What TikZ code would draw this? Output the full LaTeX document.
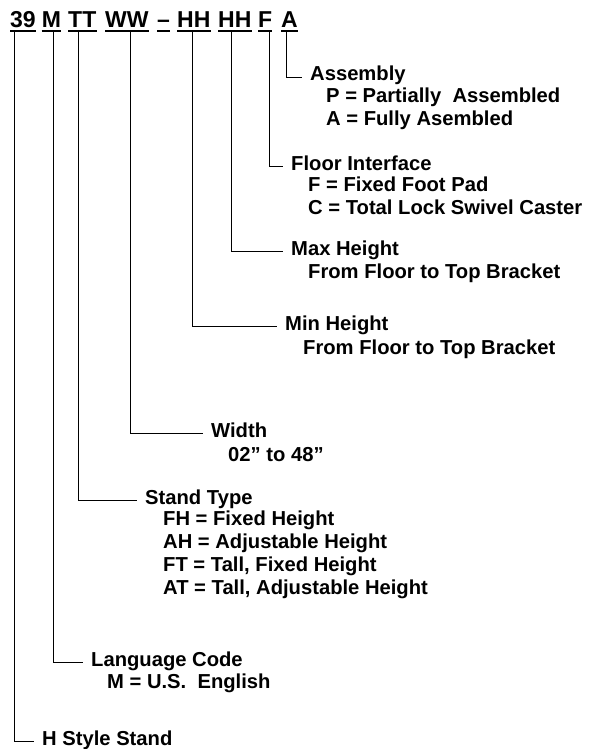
\documentclass[tikz,border=0pt]{standalone}
\usepackage{fontspec}
\setmainfont{Liberation Sans}
\usetikzlibrary{positioning}

\tikzset{
  code/.style={font=\bfseries\fontsize{23}{26}\selectfont, anchor=base west,
    inner xsep=0pt, inner ysep=2.5pt, text depth=0pt,
    append after command={(\tikzlastnode.south west) edge[line width=2pt] (\tikzlastnode.south east)}},
  title/.style={font=\bfseries\fontsize{20.2}{23}\selectfont, anchor=base west,
    inner xsep=8pt, inner ysep=0pt, text height=0.72em, text depth=0pt},
  details/.style={font=\bfseries\fontsize{20.2}{23}\selectfont, anchor=north west,
    align=left, inner sep=0pt, execute at begin node=\strut},
  link/.style={line width=0.9pt}
}

\begin{document}
\begin{tikzpicture}[x=1pt, y=-1pt]
    \useasboundingbox (0,0) rectangle (592,749);

    % Part number
    \node[code] (n39) at (10,28) {39};
    \node[code] (nM) at (41.7,28) {M};
    \node[code] (nTT) at (68,28) {TT};
    \node[code] (nWW) at (105,28) {WW};
    \node[code] (ndash) at (157,28) {–};
    \node[code] (nH1) at (177,28) {HH};
    \node[code] (nH2) at (218,28) {HH};
    \node[code] (nF) at (258,28) {F};
    \node[code] (nA) at (281,28) {A};

    % Fields (strut height 16.1pt, line 23pt below the title)
    \node[title] (asm) at (302,81) {Assembly};
    \node[details] (asmd) at ([xshift=24pt, yshift=-6.9pt]asm.base west)
        {P = Partially\ \ Assembled\\A = Fully Asembled};

    \node[title] (floor) at (283,170) {Floor Interface};
    \node[details] (floord) at ([xshift=25pt, yshift=-6.9pt]floor.base west)
        {F = Fixed Foot Pad\\C = Total Lock Swivel Caster};

    \node[title] (maxh) at (283,255) {Max Height};
    \node[details] (maxhd) at ([xshift=25pt, yshift=-6.9pt]maxh.base west)
        {From Floor to Top Bracket};

    \node[title] (minh) at (277,330) {Min Height};
    \node[details] (minhd) at ([xshift=26pt, yshift=-7.9pt]minh.base west)
        {From Floor to Top Bracket};

    \node[title] (wid) at (203,437) {Width};
    \node[details] (widd) at ([xshift=25pt, yshift=-7.9pt]wid.base west)
        {02” to 48”};

    \node[title] (stype) at (137,504) {Stand Type};
    \node[details] (styped) at ([xshift=26pt, yshift=-6.9pt]stype.base west)
        {FH = Fixed Height\\AH = Adjustable Height\\FT = Tall, Fixed Height\\AT = Tall, Adjustable Height};

    \node[title] (lang) at (83,666) {Language Code};
    \node[details] (langd) at ([xshift=24pt, yshift=-5.9pt]lang.base west)
        {M = U.S.\ \ English};

    \node[title] (hstyle) at (34,745) {H Style Stand};

    % Leaders
    \draw[link] ([xshift=5.7pt]nA.south west) |- (asm.west);
    \draw[link] ([xshift=11.3pt]nF.south west) |- (floor.west);
    \draw[link] ([xshift=13pt]nH2.south west) |- (maxh.west);
    \draw[link] ([xshift=15.7pt]nH1.south west) |- (minh.west);
    \draw[link] ([xshift=25pt]nWW.south west) |- (wid.west);
    \draw[link] ([xshift=10.3pt]nTT.south west) |- (stype.west);
    \draw[link] ([xshift=11.6pt]nM.south west) |- (lang.west);
    \draw[link] ([xshift=4.3pt]n39.south west) |- (hstyle.west);
\end{tikzpicture}
\end{document}
